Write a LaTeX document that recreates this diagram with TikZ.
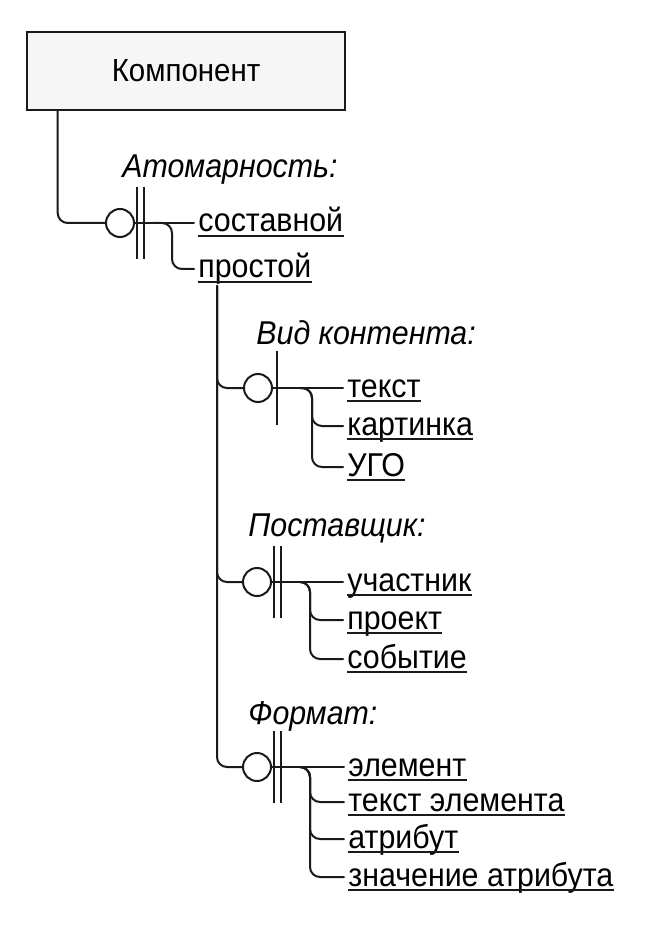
\documentclass[tikz,border=0pt]{standalone}
\usepackage{fontspec}
\setmainfont{Liberation Sans}[FakeStretch=0.92]
\usepackage{tikz}
\usetikzlibrary{calc}
\definecolor{ink}{HTML}{1A1A1A}
\definecolor{boxfill}{HTML}{F6F6F6}
\tikzset{
  conn/.style={draw=ink, line width=1pt, line cap=round, rounded corners=5pt},
  tolab/.style={conn, shorten >=2pt},
  bar/.style={draw=ink, line width=1pt},
  ring/.style={circle, draw=ink, fill=white, line width=1pt, minimum size=14pt, inner sep=0pt},
  ent/.style={draw=ink, fill=boxfill, line width=1.3pt, minimum width=159pt, minimum height=39pt, font=\fontsize{16}{19}\selectfont},
  attr/.style={anchor=base west, inner sep=0pt, font=\fontsize{16.5}{19}\selectfont\itshape},
  val/.style={anchor=west, inner sep=0pt, text height=11.5pt, text depth=2.5pt, font=\fontsize{16.5}{19}\selectfont},
  uline/.style={draw=ink, line width=0.8pt},
}

\begin{document}
\begin{tikzpicture}[x=0.5pt,y=-0.5pt]
  \useasboundingbox (0,0) rectangle (657,930);
  \node[ent] (comp) at (186,71) {Компонент};

  % atomarity
  \node[attr] (a1) at (122,178) {Атомарность:};
  \node[ring] (c1) at (120,223) {};
  \node[val] (v11) at (198,223) {составной};
  \node[val] (v12) at (198,269) {простой};

  % content kind
  \node[attr] (a2) at (256,344) {Вид контента:};
  \node[ring] (c2) at (258,388) {};
  \node[val] (v21) at (347,388) {текст};
  \node[val] (v22) at (347,426) {картинка};
  \node[val] (v23) at (347,467) {УГО};

  % supplier
  \node[attr] (a3) at (248,536) {Поставщик:};
  \node[ring] (c3) at (257,582) {};
  \node[val] (v31) at (347,582) {участник};
  \node[val] (v32) at (347,620) {проект};
  \node[val] (v33) at (347,659) {событие};

  % format
  \node[attr] (a4) at (248,724) {Формат:};
  \node[ring] (c4) at (257,767) {};
  \node[val] (v41) at (348,767) {элемент};
  \node[val] (v42) at (348,802) {текст элемента};
  \node[val] (v43) at (348,839) {атрибут};
  \node[val] (v44) at (348,877) {значение атрибута};

  % bars
  \foreach \c in {c1,c3,c4} {
    \draw[bar] ($(\c.east)+(2,-36)$) -- ++(0,72);
    \draw[bar] ($(\c.east)+(9,-36)$) -- ++(0,72);
  }
  \draw[bar] ($(c2.east)+(4,-37)$) -- ++(0,74);

  % links
  \coordinate (r0) at ($(comp.south west)+(32,0)$);
  \draw[conn] (r0) |- (c1.west);
  \coordinate (r1) at ($(v12.base west)+(19,8)$);
  \foreach \c in {c2,c3,c4}
    \draw[conn] (r1) |- (\c.west);

  \draw[tolab] (c1.east) -- (v11.west);
  \coordinate (b1) at ($(v11.west)+(-45,0)$);
  \draw[tolab] (b1) -| ($(v12.west)+(-26,0)$) -- (v12.west);

  \draw[tolab] (c2.east) -- (v21.west);
  \coordinate (b2) at ($(v21.west)+(-47,0)$);
  \foreach \v in {v22,v23}
    \draw[tolab] (b2) -| ($(\v.west)+(-35,0)$) -- (\v.west);

  \draw[tolab] (c3.east) -- (v31.west);
  \coordinate (b3) at ($(v31.west)+(-47,0)$);
  \foreach \v in {v32,v33}
    \draw[tolab] (b3) -| ($(\v.west)+(-37,0)$) -- (\v.west);

  \draw[tolab] (c4.east) -- (v41.west);
  \coordinate (b4) at ($(v41.west)+(-48,0)$);
  \foreach \v in {v42,v43,v44}
    \draw[tolab] (b4) -| ($(\v.west)+(-38,0)$) -- (\v.west);

  % underlines
  \foreach \v in {v11,v12,v21,v22,v23,v31,v32,v33,v41,v42,v43,v44}
    \draw[uline] ($(\v.base west)+(0,4)$) -- ($(\v.base east)+(0,4)$);
\end{tikzpicture}
\end{document}
